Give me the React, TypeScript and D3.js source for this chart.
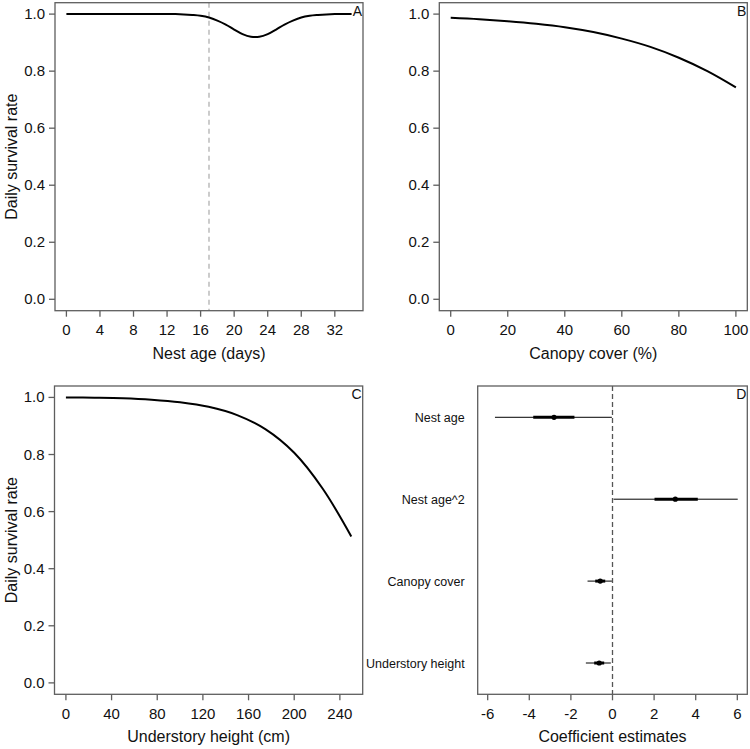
import React from 'react';
import * as d3 from 'd3';

// ---- Data ----
const ageDays = [0, 4, 8, 12, 13, 14, 15, 16, 17, 18, 19, 20, 21, 22, 22.5, 23, 24, 25, 26, 27, 28, 29, 30, 31, 32, 34];
const ageSurvival = [1.0, 1.0, 1.0, 1.0, 1.0, 0.999, 0.997, 0.994, 0.988, 0.977, 0.963, 0.946, 0.930, 0.921, 0.920, 0.921, 0.930, 0.946, 0.963, 0.977, 0.988, 0.994, 0.997, 0.999, 1.0, 1.0];
const nestAgeCutoff = 17;

const canopyCover = [0, 10, 20, 30, 40, 50, 60, 70, 80, 90, 100];
const canopySurvival = [0.987, 0.982, 0.975, 0.966, 0.954, 0.937, 0.914, 0.885, 0.847, 0.800, 0.743];

const understoryHeight = [0, 25, 50, 75, 100, 125, 150, 175, 200, 225, 250];
const understorySurvival = [1.0, 0.999, 0.997, 0.992, 0.983, 0.967, 0.938, 0.888, 0.806, 0.680, 0.513];

const coefNames = ['Nest age', 'Nest age^2', 'Canopy cover', 'Understory height'];
const coefEst = [-2.81, 3.02, -0.59, -0.64];
const coefLo50 = [-3.81, 2.02, -0.83, -0.88];
const coefHi50 = [-1.83, 4.1, -0.35, -0.4];
const coefLo95 = [-5.65, 0.05, -1.2, -1.28];
const coefHi95 = [-0.03, 6.02, -0.03, -0.08];

const ageTicks = [0, 4, 8, 12, 16, 20, 24, 28, 32];
const canopyTicks = [0, 20, 40, 60, 80, 100];
const understoryTicks = [0, 40, 80, 120, 160, 200, 240];
const coefTicks = [-6, -4, -2, 0, 2, 4, 6];
const survivalTicks = [0, 0.2, 0.4, 0.6, 0.8, 1.0];

const FONT = "'Liberation Sans', Arial, Helvetica, sans-serif";
const AXIS = '#5e5e5e';
const TICK_FS = 15;
const TITLE_FS = 16;

type Box = { l: number; r: number; t: number; b: number };

const expand = (a: number, b: number): [number, number] => {
  const d = (b - a) * 0.04;
  return [a - d, b + d];
};

function Frame({ box, letter }: { box: Box; letter: string }) {
  return (
    <g>
      <rect x={box.l} y={box.t} width={box.r - box.l} height={box.b - box.t} fill="none" stroke={AXIS} strokeWidth={1.3} />
      <text x={box.r - 1} y={box.t + 13} textAnchor="end" fontSize={14} fontFamily={FONT} fill="#111">{letter}</text>
    </g>
  );
}

function XAxis({ box, x, ticks, title }: { box: Box; x: d3.ScaleLinear<number, number>; ticks: number[]; title: string }) {
  return (
    <g>
      {ticks.map((t) => (
        <g key={t}>
          <line x1={x(t)} x2={x(t)} y1={box.b} y2={box.b + 6} stroke={AXIS} strokeWidth={1.3} />
          <text x={x(t)} y={box.b + 24.5} textAnchor="middle" fontSize={TICK_FS} fontFamily={FONT} fill="#111">{String(t)}</text>
        </g>
      ))}
      <text x={(box.l + box.r) / 2} y={box.b + 48} textAnchor="middle" fontSize={TITLE_FS} fontFamily={FONT} fill="#111">{title}</text>
    </g>
  );
}

function YAxis({ box, y, ticks, title }: { box: Box; y: d3.ScaleLinear<number, number>; ticks: number[]; title?: string }) {
  const fmt = d3.format('.1f');
  return (
    <g>
      {ticks.map((t) => (
        <g key={t}>
          <line x1={box.l - 6} x2={box.l} y1={y(t)} y2={y(t)} stroke={AXIS} strokeWidth={1.3} />
          <text x={box.l - 10} y={y(t) + 5} textAnchor="end" fontSize={TICK_FS} fontFamily={FONT} fill="#111">{fmt(t)}</text>
        </g>
      ))}
      {title && (
        <text transform={`translate(${17},${(box.t + box.b) / 2}) rotate(-90)`} textAnchor="middle" fontSize={TITLE_FS} fontFamily={FONT} fill="#111">{title}</text>
      )}
    </g>
  );
}

function CurvePanel({ box, xs, ys, xDomain, xTicks, xTitle, yTitle, letter, vline, smooth }: {
  box: Box; xs: number[]; ys: number[]; xDomain: [number, number]; xTicks: number[]; xTitle: string; yTitle?: string; letter: string; vline?: number; smooth?: boolean;
}) {
  const x = d3.scaleLinear().domain(expand(xDomain[0], xDomain[1])).range([box.l, box.r]);
  const y = d3.scaleLinear().domain(expand(0, 1)).range([box.b, box.t]);
  const pts = xs.map((v, i) => [v, ys[i]] as [number, number]);
  const line = d3.line<[number, number]>().x((d) => x(d[0])).y((d) => y(d[1]))
    .curve(smooth ? d3.curveCatmullRom.alpha(0.5) : d3.curveMonotoneX);
  return (
    <g>
      {vline !== undefined && (
        <line x1={x(vline)} x2={x(vline)} y1={box.t} y2={box.b} stroke="#aaa" strokeWidth={1.2} strokeDasharray="5,4" />
      )}
      <path d={line(pts) || ''} fill="none" stroke="#000" strokeWidth={2} />
      <Frame box={box} letter={letter} />
      <XAxis box={box} x={x} ticks={xTicks} title={xTitle} />
      <YAxis box={box} y={y} ticks={survivalTicks} title={yTitle} />
    </g>
  );
}

function CoefPanel({ box }: { box: Box }) {
  const x = d3.scaleLinear().domain(expand(-6, 6)).range([box.l, box.r]);
  const y = d3.scalePoint<string>().domain(coefNames).range([box.t, box.b]).padding(0.382);
  return (
    <g>
      <line x1={x(0)} x2={x(0)} y1={box.t} y2={box.b} stroke="#555" strokeWidth={1.3} strokeDasharray="5,3" />
      {coefNames.map((n, i) => {
        const cy = y(n) as number;
        return (
          <g key={n}>
            <line x1={x(coefLo95[i])} x2={x(coefHi95[i])} y1={cy} y2={cy} stroke="#000" strokeWidth={1} />
            <line x1={x(coefLo50[i])} x2={x(coefHi50[i])} y1={cy} y2={cy} stroke="#000" strokeWidth={3} />
            <circle cx={x(coefEst[i])} cy={cy} r={2.6} fill="#000" />
            <text x={box.l - 13} y={cy + 4.5} textAnchor="end" fontSize={12.5} fontFamily={FONT} fill="#111">{n}</text>
          </g>
        );
      })}
      <Frame box={box} letter="D" />
      <XAxis box={box} x={x} ticks={coefTicks} title="Coefficient estimates" />
    </g>
  );
}

export default function App() {
  const boxA: Box = { l: 55, r: 363, t: 2.7, b: 310.7 };
  const boxB: Box = { l: 439.3, r: 747.3, t: 2.7, b: 310.7 };
  const boxC: Box = { l: 54.5, r: 362.7, t: 386, b: 694.3 };
  const boxD: Box = { l: 477.7, r: 747.3, t: 386, b: 694.3 };
  return (
    <svg width={750} height={749} style={{ position: 'absolute', left: 0, top: 0, background: '#fff' }}>
      <rect x={0} y={0} width={750} height={749} fill="#fff" />
      <CurvePanel box={boxA} xs={ageDays} ys={ageSurvival} xDomain={[0, 34]} xTicks={ageTicks} xTitle="Nest age (days)" yTitle="Daily survival rate" letter="A" vline={nestAgeCutoff} />
      <CurvePanel box={boxB} xs={canopyCover} ys={canopySurvival} xDomain={[0, 100]} xTicks={canopyTicks} xTitle="Canopy cover (%)" letter="B" smooth />
      <CurvePanel box={boxC} xs={understoryHeight} ys={understorySurvival} xDomain={[0, 250]} xTicks={understoryTicks} xTitle="Understory height (cm)" yTitle="Daily survival rate" letter="C" smooth />
      <CoefPanel box={boxD} />
    </svg>
  );
}
